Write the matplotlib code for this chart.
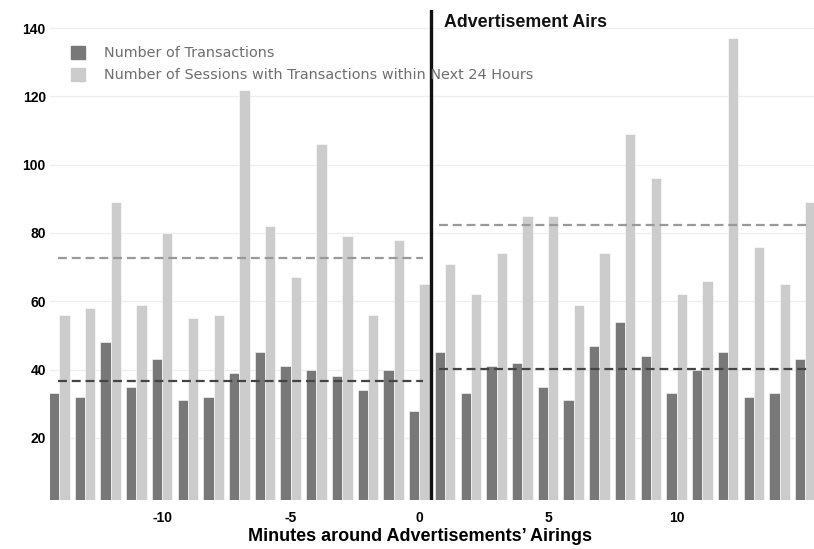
import matplotlib
matplotlib.use("Agg")
import matplotlib.pyplot as plt
from matplotlib.patches import Patch
import numpy as np

minutes = list(range(-14, 16))
transactions = [33, 32, 48, 35, 43, 31, 32, 39, 45, 41, 40, 38, 34, 40, 28,
                45, 33, 41, 42, 35, 31, 47, 54, 44, 33, 40, 45, 32, 33, 43]
sessions = [56, 58, 89, 59, 80, 55, 56, 122, 82, 67, 106, 79, 56, 78, 65,
            71, 62, 74, 85, 85, 59, 74, 109, 96, 62, 66, 137, 76, 65, 89]
mean_trans_before, mean_trans_after = 36.6, 40.2
mean_sess_before, mean_sess_after = 72.7, 82.2
yticks = [20, 40, 60, 80, 100, 120, 140]
xticks = [-10, -5, 0, 5, 10]
legend_labels = ["Number of Transactions",
                 "Number of Sessions with Transactions within Next 24 Hours"]

DARK = "#787878"
LIGHT = "#cccccc"

fig = plt.figure(figsize=(8.14, 5.49), dpi=100)
ax = fig.add_axes([50/814, 1-500/549, 1-50/814, 490/549])

x = np.array(minutes)
w = 0.4
ax.bar(x - w/2, transactions, width=w, color=DARK, edgecolor="white", linewidth=0.4, zorder=2)
ax.bar(x + w/2, sessions, width=w, color=LIGHT, edgecolor="white", linewidth=0.4, zorder=2)

ls = (0, (4, 2.2))
ax.plot([-14.05, 0.15], [mean_sess_before]*2, color="#999999", lw=1.6, ls=ls, zorder=3)
ax.plot([0.75, 15.05], [mean_sess_after]*2, color="#999999", lw=1.6, ls=ls, zorder=3)
ax.plot([-14.05, 0.15], [mean_trans_before]*2, color="#444444", lw=1.6, ls=ls, zorder=3)
ax.plot([0.75, 15.05], [mean_trans_after]*2, color="#444444", lw=1.6, ls=ls, zorder=3)

ax.axvline(0.44, color="#111111", lw=2.4, zorder=4)
ax.text(0.95, 144.0, "Advertisement Airs", fontfamily="Liberation Sans",
        fontweight="bold", fontsize=12.8, va="top", ha="left", color="#111111")

ax.set_xlim(-14.36, 15.34)
ax.set_ylim(1.8, 145.3)
ax.set_yticks(yticks)
ax.set_xticks(xticks)
ax.set_yticklabels([str(v) for v in yticks], fontfamily="Liberation Sans",
                   fontweight="bold", fontsize=10)
ax.set_xticklabels([str(v) for v in xticks], fontfamily="Liberation Sans",
                   fontweight="bold", fontsize=10)
ax.tick_params(axis="y", length=0, pad=3)
ax.tick_params(axis="x", length=0, pad=8)
ax.grid(axis="y", color="#eeeeee", lw=0.9, zorder=0)
ax.set_axisbelow(True)
for s in ax.spines.values():
    s.set_visible(False)
ax.set_xlabel("Minutes around Advertisements\u2019 Airings", fontfamily="Liberation Sans",
              fontweight="bold", fontsize=13)
ax.xaxis.set_label_coords((420-50)/764, -28/490)

handles = [Patch(facecolor=DARK, edgecolor=DARK), Patch(facecolor=LIGHT, edgecolor=LIGHT)]
leg = ax.legend(handles, legend_labels, loc="upper left", bbox_to_anchor=(58/814, 1-33/549),
                bbox_transform=fig.transFigure, frameon=False, handlelength=1.0,
                handleheight=1.0, handletextpad=1.3, labelspacing=0.5,
                prop={"family": "DejaVu Sans", "size": 10.4})
for t in leg.get_texts():
    t.set_color("#6e6e6e")

fig.savefig("out.png", dpi=100)
